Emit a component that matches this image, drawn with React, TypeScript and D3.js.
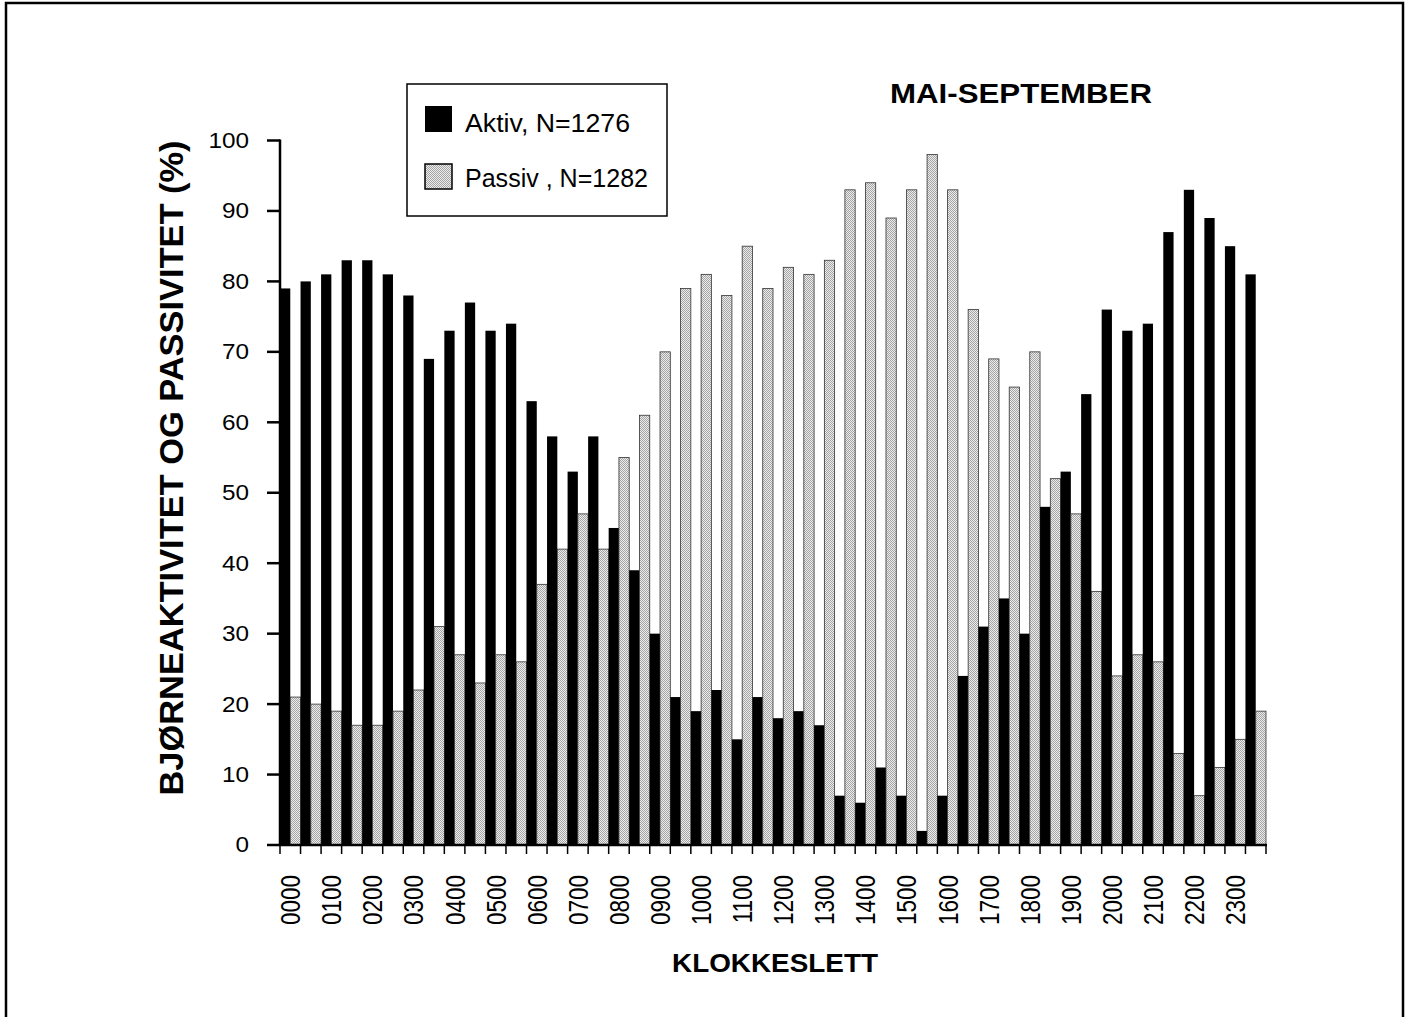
import React from "react";
import * as d3 from "d3";

const categories = [
  "0000", "0030", "0100", "0130", "0200", "0230", "0300", "0330",
  "0400", "0430", "0500", "0530", "0600", "0630", "0700", "0730",
  "0800", "0830", "0900", "0930", "1000", "1030", "1100", "1130",
  "1200", "1230", "1300", "1330", "1400", "1430", "1500", "1530",
  "1600", "1630", "1700", "1730", "1800", "1830", "1900", "1930",
  "2000", "2030", "2100", "2130", "2200", "2230", "2300", "2330",
];

const hourLabels = [
  "0000", "0100", "0200", "0300", "0400", "0500", "0600", "0700",
  "0800", "0900", "1000", "1100", "1200", "1300", "1400", "1500",
  "1600", "1700", "1800", "1900", "2000", "2100", "2200", "2300",
];

const aktiv = [
  79, 80, 81, 83, 83, 81, 78, 69,
  73, 77, 73, 74, 63, 58, 53, 58,
  45, 39, 30, 21, 19, 22, 15, 21,
  18, 19, 17, 7, 6, 11, 7, 2,
  7, 24, 31, 35, 30, 48, 53, 64,
  76, 73, 74, 87, 93, 89, 85, 81,
];

const passiv = [
  21, 20, 19, 17, 17, 19, 22, 31,
  27, 23, 27, 26, 37, 42, 47, 42,
  55, 61, 70, 79, 81, 78, 85, 79,
  82, 81, 83, 93, 94, 89, 93, 98,
  93, 76, 69, 65, 70, 52, 47, 36,
  24, 27, 26, 13, 7, 11, 15, 19,
];

const yTicks = [0, 10, 20, 30, 40, 50, 60, 70, 80, 90, 100];

const FONT = "'Liberation Sans', Arial, sans-serif";

export default function App() {
  const x = d3
    .scaleBand<string>()
    .domain(categories)
    .range([280, 1266])
    .paddingInner(0)
    .paddingOuter(0);
  const y = d3.scaleLinear().domain([0, 100]).range([845, 140.5]);
  const half = x.bandwidth() / 2;
  const boundaries = categories.map((c) => x(c) as number).concat([1266]);

  return (
    <div style={{ position: "absolute", left: 0, top: 0, width: 1408, height: 1017, overflow: "hidden", background: "#fff" }}>
      <svg width={1408} height={1017} style={{ display: "block" }}>
        <defs>
          <pattern id="stip" width={2} height={2} patternUnits="userSpaceOnUse">
            <rect x={0} y={0} width={2} height={2} fill="#ececec" />
            <rect x={0} y={0} width={1} height={1} fill="#a4a4a4" />
            <rect x={1} y={1} width={1} height={1} fill="#a4a4a4" />
          </pattern>
        </defs>
        <rect x={0} y={0} width={1408} height={1017} fill="#fff" />
        {/* outer frame */}
        <rect x={6} y={3} width={1397} height={1040} fill="none" stroke="#000" strokeWidth={2.5} />

        {/* bars */}
        {categories.map((c, i) => (
          <g key={c}>
            <rect
              x={x(c) as number}
              y={y(aktiv[i])}
              width={half}
              height={y(0) - y(aktiv[i])}
              fill="#000"
            />
            <rect
              x={(x(c) as number) + half}
              y={y(passiv[i])}
              width={half}
              height={y(0) - y(passiv[i])}
              fill="url(#stip)"
              stroke="#333"
              strokeWidth={0.8}
            />
          </g>
        ))}

        {/* y axis */}
        <line x1={280} x2={280} y1={y(100) - 1} y2={y(0)} stroke="#000" strokeWidth={2.5} />
        {yTicks.map((t) => (
          <g key={t}>
            <line x1={267} x2={280} y1={y(t)} y2={y(t)} stroke="#000" strokeWidth={2.5} />
            <text
              transform={`translate(249,${y(t)}) scale(1.13,1)`}
              textAnchor="end"
              dominantBaseline="central"
              fontFamily={FONT}
              fontSize={21.5}
              fill="#000"
            >
              {t}
            </text>
          </g>
        ))}

        {/* x axis */}
        <line x1={279} x2={1267} y1={y(0)} y2={y(0)} stroke="#000" strokeWidth={2.5} />
        {boundaries.map((b, i) => (
          <line key={i} x1={b} x2={b} y1={y(0)} y2={854} stroke="#000" strokeWidth={1.5} />
        ))}
        {hourLabels.map((h) => {
          const cx = (x(h) as number) + x.bandwidth() / 2;
          return (
            <text
              key={h}
              transform={`translate(${cx},875) scale(1.25,1) rotate(-90)`}
              textAnchor="end"
              dominantBaseline="central"
              fontFamily={FONT}
              fontSize={22.5}
              fill="#000"
            >
              {h}
            </text>
          );
        })}

        {/* axis titles */}
        <text
          transform="translate(170.5,468) rotate(-90)"
          textAnchor="middle"
          dominantBaseline="central"
          fontFamily={FONT}
          fontWeight="bold"
          fontSize={34}
          textLength={655}
          lengthAdjust="spacingAndGlyphs"
          fill="#000"
        >
          BJØRNEAKTIVITET OG PASSIVITET (%)
        </text>
        <text
          x={672}
          y={972}
          fontFamily={FONT}
          fontWeight="bold"
          fontSize={26.5}
          textLength={206}
          lengthAdjust="spacingAndGlyphs"
          fill="#000"
        >
          KLOKKESLETT
        </text>

        {/* title */}
        <text
          x={890}
          y={103}
          fontFamily={FONT}
          fontWeight="bold"
          fontSize={28}
          textLength={262}
          lengthAdjust="spacingAndGlyphs"
          fill="#000"
        >
          MAI-SEPTEMBER
        </text>

        {/* legend */}
        <rect x={407} y={84} width={260} height={132} fill="#fff" stroke="#000" strokeWidth={1.5} />
        <rect x={425} y={106} width={27} height={26} fill="#000" />
        <rect x={425} y={164} width={27} height={25} fill="url(#stip)" stroke="#000" strokeWidth={1.5} />
        <text x={465} y={132} fontFamily={FONT} fontSize={26} textLength={165} lengthAdjust="spacingAndGlyphs" fill="#000">
          Aktiv, N=1276
        </text>
        <text x={465} y={187} fontFamily={FONT} fontSize={26} textLength={183} lengthAdjust="spacingAndGlyphs" fill="#000">
          Passiv , N=1282
        </text>
      </svg>
    </div>
  );
}
